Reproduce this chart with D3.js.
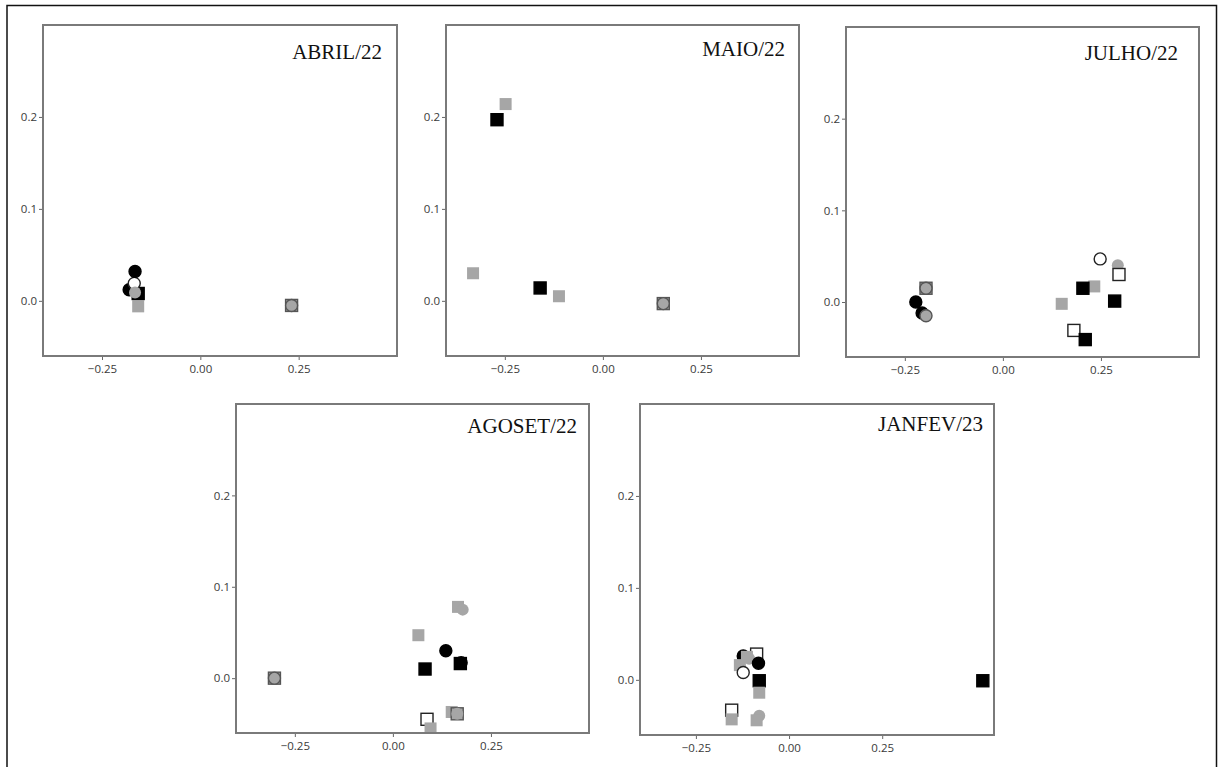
<!DOCTYPE html>
<html>
<head>
<meta charset="utf-8">
<script src="https://cdn.jsdelivr.net/npm/d3@7"></script>
<style>
  html, body { margin: 0; padding: 0; background: #fff; }
  svg { display: block; }
</style>
</head>
<body>
<div id="chart"></div>
<script>
// Panel titles and axis ticks
var panelNames = ['ABRIL/22', 'MAIO/22', 'JULHO/22', 'AGOSET/22', 'JANFEV/23'];
var xTicks = [-0.25, 0, 0.25];
var yTicks = [0, 0.1, 0.2];

// Points: [x, y, marker]  (drawn in this order)
var abril = [
  [-0.158, -0.006, 'sqG'],
  [-0.158, 0.008, 'sqB'],
  [-0.181, 0.012, 'ciB'],
  [-0.168, 0.019, 'ciO'],
  [-0.166, 0.032, 'ciB'],
  [-0.166, 0.009, 'ciG'],
  [0.232, -0.005, 'sqGd'],
  [0.232, -0.005, 'ciGd']
];
var maio = [
  [-0.248, 0.214, 'sqG'],
  [-0.270, 0.197, 'sqB'],
  [-0.331, 0.030, 'sqG'],
  [-0.160, 0.014, 'sqB'],
  [-0.112, 0.005, 'sqG'],
  [0.154, -0.003, 'sqGd'],
  [0.154, -0.003, 'ciGd']
];
var julho = [
  [-0.196, 0.015, 'sqGd'],
  [-0.196, 0.015, 'ciGd'],
  [-0.222, 0.000, 'ciB'],
  [-0.206, -0.012, 'ciB'],
  [-0.196, -0.015, 'ciGd'],
  [0.248, 0.047, 'ciO'],
  [0.293, 0.040, 'ciG'],
  [0.296, 0.030, 'sqO'],
  [0.233, 0.017, 'sqG'],
  [0.204, 0.015, 'sqB'],
  [0.150, -0.002, 'sqG'],
  [0.285, 0.001, 'sqB'],
  [0.181, -0.031, 'sqO'],
  [0.210, -0.041, 'sqB']
];
var agoset = [
  [-0.302, 0.000, 'sqGd'],
  [-0.302, 0.000, 'ciGd'],
  [0.166, 0.078, 'sqG'],
  [0.178, 0.075, 'ciG'],
  [0.065, 0.047, 'sqG'],
  [0.135, 0.030, 'ciB'],
  [0.082, 0.010, 'sqB'],
  [0.172, 0.016, 'sqB'],
  [0.174, 0.017, 'ciB'],
  [0.150, -0.037, 'sqG'],
  [0.164, -0.039, 'sqGd'],
  [0.164, -0.039, 'ciG'],
  [0.087, -0.045, 'sqO'],
  [0.096, -0.055, 'sqG']
];
var janfev = [
  [-0.087, 0.028, 'sqO'],
  [-0.123, 0.026, 'ciB'],
  [-0.113, 0.025, 'sqG'],
  [-0.132, 0.016, 'sqG'],
  [-0.107, 0.023, 'ciG'],
  [-0.123, 0.008, 'ciO'],
  [-0.082, 0.018, 'ciB'],
  [-0.080, -0.001, 'sqB'],
  [-0.080, -0.014, 'sqG'],
  [-0.154, -0.033, 'sqO'],
  [-0.154, -0.043, 'sqG'],
  [-0.080, -0.039, 'ciG'],
  [-0.087, -0.044, 'sqG'],
  [0.520, -0.001, 'sqB']
];

// Marker look
var markers = {
  sqB:  { shape: 'sq', fill: '#000',    stroke: '#000' },
  sqG:  { shape: 'sq', fill: '#a6a6a6', stroke: 'none' },
  sqGd: { shape: 'sq', fill: '#a6a6a6', stroke: '#555' },
  sqO:  { shape: 'sq', fill: '#fff',    stroke: '#222' },
  ciB:  { shape: 'ci', fill: '#000',    stroke: '#000' },
  ciG:  { shape: 'ci', fill: '#a6a6a6', stroke: 'none' },
  ciGd: { shape: 'ci', fill: '#a6a6a6', stroke: '#555' },
  ciO:  { shape: 'ci', fill: '#fff',    stroke: '#222' }
};

// Layout of each panel
var panels = [
  { name: panelNames[0], pts: abril,  x: 43,  y: 25,  w: 354, h: 331, xMax: 0.5,  tRight: 15, tBase: 34 },
  { name: panelNames[1], pts: maio,   x: 446, y: 25,  w: 353, h: 331, xMax: 0.5,  tRight: 14, tBase: 31 },
  { name: panelNames[2], pts: julho,  x: 846, y: 27,  w: 353, h: 330, xMax: 0.5,  tRight: 21, tBase: 33 },
  { name: panelNames[3], pts: agoset, x: 236, y: 404, w: 353, h: 329, xMax: 0.5,  tRight: 12, tBase: 29 },
  { name: panelNames[4], pts: janfev, x: 640, y: 404, w: 354, h: 331, xMax: 0.55, tRight: 11, tBase: 27 }
];

var W = 1219, H = 767, S = 12;

var svg = d3.select('#chart').append('svg')
  .attr('width', W)
  .attr('height', H);

// Outer figure frame (open at the bottom)
svg.append('path')
  .attr('d', 'M7,' + H + 'V5.5H1216.5V' + H)
  .attr('fill', 'none')
  .attr('stroke', '#111')
  .attr('stroke-width', 1.5);

panels.forEach(function (p, i) {
  var xs = d3.scaleLinear().domain([-0.4, p.xMax]).range([0, p.w]);
  var ys = d3.scaleLinear().domain([-0.06, 0.3]).range([p.h, 0]);

  var g = svg.append('g').attr('transform', 'translate(' + p.x + ',' + p.y + ')');

  g.append('clipPath').attr('id', 'clip' + i)
    .append('rect').attr('width', p.w).attr('height', p.h);

  // axes
  var xAxis = g.append('g')
    .attr('transform', 'translate(0,' + p.h + ')')
    .call(d3.axisBottom(xs).tickValues(xTicks).tickSize(4).tickPadding(5).tickFormat(d3.format('.2f')));
  var yAxis = g.append('g')
    .call(d3.axisLeft(ys).tickValues(yTicks).tickSize(4).tickPadding(2).tickFormat(d3.format('.1f')));

  [xAxis, yAxis].forEach(function (a) {
    a.select('.domain').remove();
    a.selectAll('line').attr('stroke', '#666');
    a.selectAll('text')
      .attr('fill', '#3a3a3a')
      .style('font-family', '"Open Sans", "Noto Sans", sans-serif')
      .style('font-size', '11.5px');
  });

  // marks
  var pg = g.append('g').attr('clip-path', 'url(#clip' + i + ')');
  p.pts.forEach(function (d) {
    var m = markers[d[2]];
    var cx = xs(d[0]), cy = ys(d[1]);
    var el;
    if (m.shape === 'sq') {
      el = pg.append('rect')
        .attr('x', cx - S / 2).attr('y', cy - S / 2)
        .attr('width', S).attr('height', S);
    } else {
      el = pg.append('circle')
        .attr('cx', cx).attr('cy', cy).attr('r', S / 2);
    }
    el.attr('fill', m.fill)
      .attr('stroke', m.stroke)
      .attr('stroke-width', m.stroke === 'none' ? 0 : 1.4);
  });

  // frame
  g.append('rect')
    .attr('width', p.w).attr('height', p.h)
    .attr('fill', 'none')
    .attr('stroke', '#7a7a7a')
    .attr('stroke-width', 2);

  // title
  g.append('text')
    .attr('x', p.w - p.tRight)
    .attr('y', p.tBase)
    .attr('text-anchor', 'end')
    .attr('fill', '#111')
    .style('font-family', '"Liberation Serif", "Times New Roman", serif')
    .style('font-size', '21px')
    .text(p.name);
});
</script>
</body>
</html>
